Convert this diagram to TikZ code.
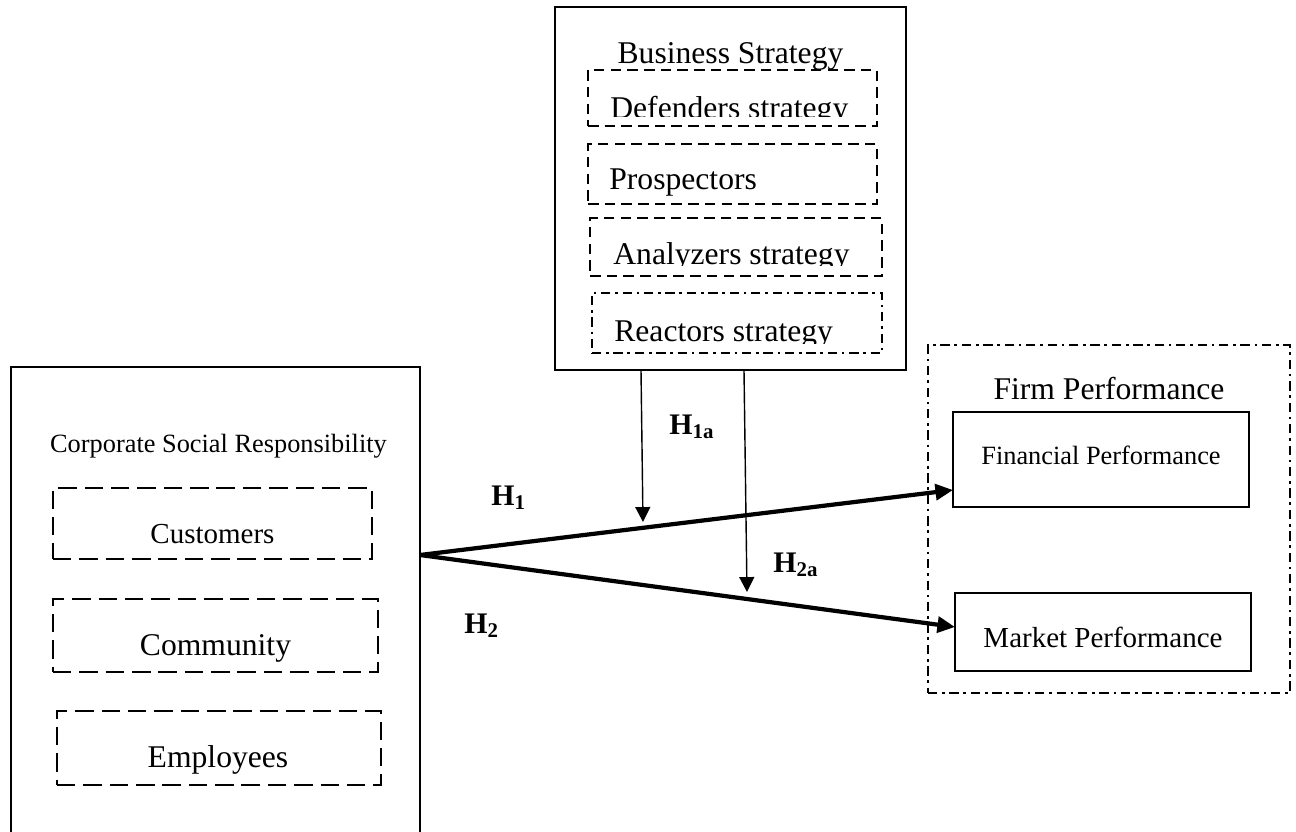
\documentclass[tikz,border=0pt]{standalone}
\usepackage{fontspec}
\setmainfont{Liberation Serif}
\usetikzlibrary{arrows.meta}
\usetikzlibrary{fit}

\begin{document}
\begin{tikzpicture}
	[x=0.02cm, y=-0.02cm,
	box/.style={draw, line width=1.4pt, inner sep=0pt},
	dashbox/.style={box, dash pattern=on 6pt off 3.5pt},
	longdashbox/.style={box, dash pattern=on 10.5pt off 4.5pt},
	dotdashbox/.style={box, dash pattern=on 5.3pt off 2.7pt on 1.5pt off 2.7pt},
	txt/.style={inner sep=0pt, font=\fontsize{18}{21}\selectfont},
	midtxt/.style={inner sep=0pt, font=\fontsize{16.5}{19}\selectfont},
	smalltxt/.style={inner sep=0pt, font=\fontsize{15}{18}\selectfont},
	hyp/.style={inner sep=0pt, anchor=base west, font=\fontsize{17}{20}\selectfont\bfseries},
	link/.style={line width=2.4pt, -{Triangle[length=10pt,width=9pt]}},
	moder/.style={line width=0.8pt, -{Triangle[length=8.5pt,width=8.5pt]}}]

\useasboundingbox (0,0) rectangle (1296,832);

% Business strategy
\node[box, fit={(555,7) (906,370)}] (bs) {};
\node[txt, anchor=base] (bstitle) at (730.5,63) {Business Strategy};

\node[dashbox, fit={(588,70) (877,126)}] (defbox) {};
\begin{scope}
	\clip (588,70) rectangle (877,116);
	\node[txt, anchor=base west] (deftxt) at (610,118) {Defenders strategy};
\end{scope}

\node[dashbox, fit={(588,144) (877,204)}] (probox) {};
\node[txt, anchor=base west] (protxt) at (609,189) {Prospectors};

\node[dashbox, fit={(590,218) (882,276)}] (anabox) {};
\begin{scope}
	\clip (590,218) rectangle (882,265.5);
	\node[txt, anchor=base west] (anatxt) at (613,264) {Analyzers strategy};
\end{scope}

\node[dotdashbox, fit={(592,293) (882,353)}] (reabox) {};
\begin{scope}
	\clip (592,293) rectangle (882,343.5);
	\node[txt, anchor=base west] (reatxt) at (614,341) {Reactors strategy};
\end{scope}

% Corporate social responsibility
\node[box, fit={(11,367) (420,880)}] (csr) {};
\node[smalltxt, anchor=base] (csrtitle) at (218.5,452) {Corporate Social Responsibility};

\node[longdashbox, fit={(53,488) (372,559)}] (cusbox) {};
\node[midtxt, anchor=base] (custxt) at (212.5,543) {Customers};
\node[longdashbox, fit={(53,599) (378,672)}] (combox) {};
\node[txt, anchor=base] (comtxt) at (215.5,655) {Community};
\node[longdashbox, fit={(57,711) (381,785)}] (empbox) {};
\node[txt, anchor=base] (emptxt) at (218,767) {Employees};

% Firm performance
\node[dotdashbox, fit={(928,345) (1290,693)}] (fp) {};
\node[txt, anchor=base] (fptitle) at (1109,399) {Firm Performance};
\node[box, fit={(953,412) (1249,507)}] (fin) {};
\node[smalltxt, anchor=base] (fintxt) at (1101,464) {Financial Performance};
\node[box, fit={(955,593) (1251,671)}] (mkt) {};
\node[midtxt, anchor=base] (mkttxt) at (1103,647) {Market Performance};

% Main paths
\coordinate (fork) at (420,555);
\coordinate (finin) at (953,490);
\coordinate (mktin) at (955,627);
\draw[link] (fork) -- (finin);
\draw[link] (fork) -- (mktin);

% Moderating paths
\coordinate (h1top) at (641,370);
\coordinate (h1tip) at (643,522);
\coordinate (h2top) at (744,370);
\coordinate (h2tip) at (747,592);
\draw[moder] (h1top) -- (h1tip);
\draw[moder] (h2top) -- (h2tip);

% Hypotheses
\node[hyp] (h1) at (491,505) {H\textsubscript{1}};
\node[hyp] (h1a) at (669,434) {H\textsubscript{1a}};
\node[hyp] (h2) at (464,633) {H\textsubscript{2}};
\node[hyp] (h2a) at (773,572) {H\textsubscript{2a}};

\end{tikzpicture}
\end{document}
